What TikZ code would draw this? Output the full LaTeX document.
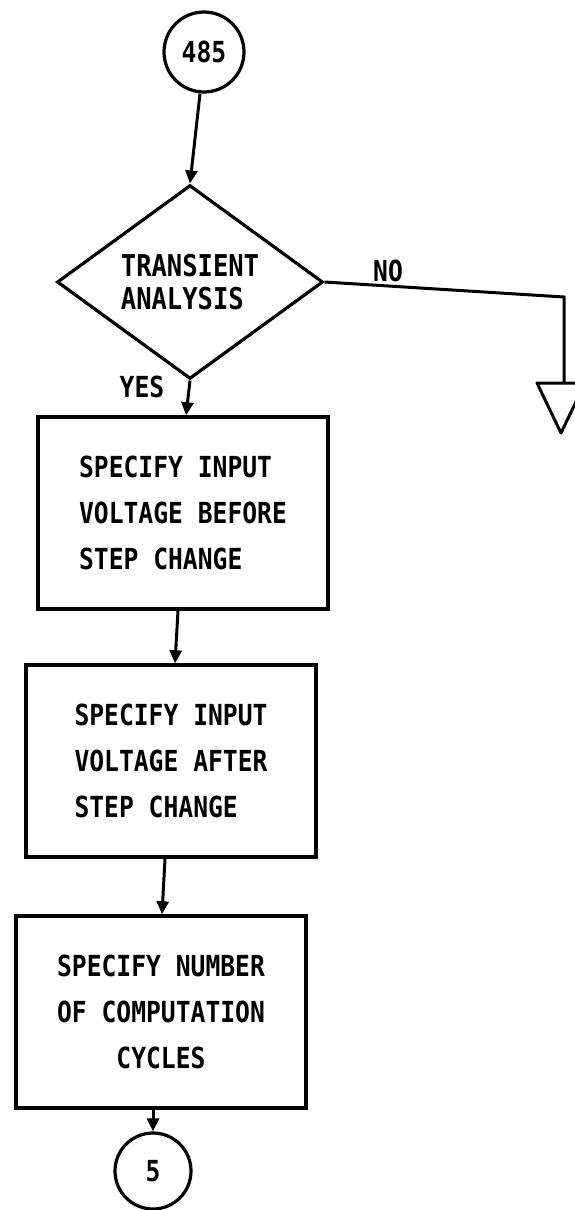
\documentclass[tikz,border=0pt]{standalone}
\usepackage{fontspec}
\newfontfamily\lettering{DejaVu Sans Mono}[FakeStretch=0.85]
\usetikzlibrary{shapes.geometric,arrows.meta}
\begin{document}
\begin{tikzpicture}[x=1pt,y=-1pt,
  every node/.style={font=\lettering\bfseries\fontsize{29}{46}\selectfont},
  conn/.style={circle, draw, line width=3.2pt, inner sep=0pt},
  dec/.style={diamond, draw, line width=3.2pt, minimum width=266pt, minimum height=178pt, inner sep=0pt, align=left,
    font=\lettering\bfseries\fontsize{30}{33}\selectfont},
  procbox/.style={rectangle, draw, line width=3.5pt, minimum width=290pt, minimum height=192pt, inner sep=0pt},
  flow/.style={line width=3pt, -{Triangle[length=13pt,width=12pt]}},
  wire/.style={line width=3pt, line join=miter},
  lbl/.style={inner sep=0pt}
]
\useasboundingbox (0,0) rectangle (575,1210);
\clip (0,0) rectangle (575,1210);

\node[conn, minimum size=80pt] (c485) at (204,52) {485};
\node[dec] (dia) at (190,282) {TRANSIENT\\ANALYSIS};
\node[procbox, align=left] (box1) at (183,513) {SPECIFY INPUT\\VOLTAGE BEFORE\\STEP CHANGE};
\node[procbox, align=left] (box2) at (171,761) {SPECIFY INPUT\\VOLTAGE AFTER\\STEP CHANGE};
\node[procbox, align=center] (box3) at (161,1012) {SPECIFY NUMBER\\OF COMPUTATION\\CYCLES};
\node[conn, minimum size=76pt] (c5) at (153,1171) {5};

\node[lbl] (no) at (388,271) {NO};
\node[lbl] (yes) at (142,387) {YES};

\coordinate (corner) at (564,297);
\coordinate (off) at (561,383);

\draw[flow] ([xshift=-4pt]c485.south) -- (dia.north);
\draw[flow] (dia.south) -- ([xshift=3pt]box1.north);
\draw[flow] ([xshift=-5pt]box1.south) -- ([xshift=4pt]box2.north);
\draw[flow] ([xshift=-6pt]box2.south) -- ([xshift=1pt]box3.north);
\draw[flow] ([xshift=-8pt]box3.south) -- (c5.north);

\draw[wire] (dia.east) -- (corner) -- (corner |- off);
\draw[wire, line join=round] (off) ++(-24,0) -- ++(48,0) -- ++(-24,50) -- cycle;
\end{tikzpicture}
\end{document}
